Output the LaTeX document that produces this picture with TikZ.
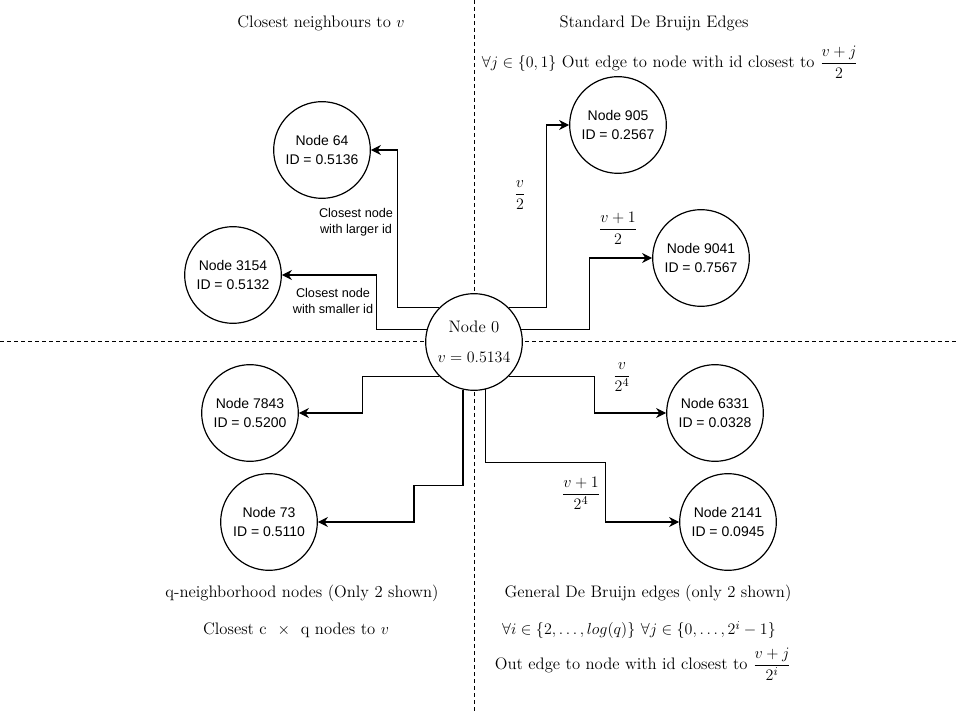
\documentclass[tikz,border=0pt]{standalone}
\usepackage{amsmath}
\usepackage{fontspec}
\newfontfamily\nodesans{Liberation Sans}
\usetikzlibrary{arrows.meta}

\begin{document}
\begin{tikzpicture}[x=0.75pt,y=0.75pt,yscale=-1,xscale=1,
  circ/.style={draw,circle,line width=0.9pt,fill=white,minimum size=72.5pt,inner sep=0pt,align=center,font=\nodesans\fontsize{10.5}{14}\selectfont},
  edge/.style={line width=0.8pt,-{Stealth[length=7.5pt,width=7.5pt,inset=2.5pt]}},
  quad/.style={dash pattern=on 3pt off 2.25pt,line width=0.6pt},
  ttl/.style={inner sep=0.75pt,font=\fontsize{12.5}{15}\selectfont},
  lbl/.style={inner sep=0.75pt,align=center,font=\nodesans\fontsize{9.5}{12}\selectfont}]
%set diagram left start at 0, and has height of 712
\useasboundingbox (0,0) rectangle (957,712);

%Straight Lines [id:quadrant borders]
\draw [quad] (0,341.5) -- (957,341.5) ;
\draw [quad] (474,0) -- (474,712) ;

%Shape: Circle [id:node 0]
\draw (474,342) node (n0) [circ,font=\fontsize{12.5}{22.5}\selectfont] {Node 0\\$v = 0.5134$};
%Shape: Circle [id:neighbours]
\draw (322,150) node (n64) [circ] {Node 64\\ID = 0.5136};
\draw (233,275) node (n3154) [circ] {Node 3154\\ID = 0.5132};
%Shape: Circle [id:standard de bruijn]
\draw (618,125) node (n905) [circ] {Node 905\\ID = 0.2567};
\draw (701,258) node (n9041) [circ] {Node 9041\\ID = 0.7567};
%Shape: Circle [id:q-neighbourhood]
\draw (250,413) node (n7843) [circ] {Node 7843\\ID = 0.5200};
\draw (269,522) node (n73) [circ] {Node 73\\ID = 0.5110};
%Shape: Circle [id:general de bruijn]
\draw (715,413) node (n6331) [circ] {Node 6331\\ID = 0.0328};
\draw (728,522) node (n2141) [circ] {Node 2141\\ID = 0.0945};

%Straight Lines [id:edges]
\draw [edge] (n0.135) -- ++(-42,0) |- (n64) ;
\draw [edge] (n0.165) -- ++(-50,0) |- (n3154) ;
\draw [edge] (n0.45) -- ++(38,0) |- (n905) ;
\draw [edge] (n0.15) -- ++(68,0) |- (n9041) ;
\draw [edge] (n0.-135) -- ++(-77,0) |- (n7843) ;
\draw [edge] (n0.-103) -- ++(0,96) -- ++(-49,0) |- (n73) ;
\draw [edge] (n0.-45) -- ++(86,0) |- (n6331) ;
\draw [edge] (n0.-76) -- ++(0,73) -- ++(120,0) |- (n2141) ;

% Text Node
\draw (356,222) node (l64) [lbl] {Closest node\\with larger id};
% Text Node
\draw (333,301) node (l3154) [lbl] {Closest node\\with smaller id};
% Text Node
\draw (520,195) node (f905) [ttl] {$\dfrac{v}{2}$};
% Text Node
\draw (618,228) node (f9041) [ttl] {$\dfrac{v+1}{2}$};
% Text Node
\draw (622,377) node (f6331) [ttl] {$\dfrac{v}{2^4}$};
% Text Node
\draw (581,493) node (f2141) [ttl] {$\dfrac{v+1}{2^4}$};

% Text Node
\draw (321,23) node (t1) [ttl] {Closest neighbours to $v$};
% Text Node
\draw (654,23) node (t2) [ttl] {Standard De Bruijn Edges};
% Text Node
\draw (670,62) node (t2b) [ttl] {$\forall j \in \{0,1\}$ Out edge to node with id closest to $\dfrac{v+j}{2}$};
% Text Node
\draw (302,593) node (t3) [ttl] {q-neighborhood nodes (Only 2 shown)};
% Text Node
\draw (296,630) node (t3b) [ttl] {Closest c ~$\times$~ q nodes to $v$};
% Text Node
\draw (648,593) node (t4) [ttl] {General De Bruijn edges (only 2 shown)};
% Text Node
\draw (639,630) node (t4b) [ttl,font=\fontsize{13}{15}\selectfont] {$\forall i \in \{2,\ldots,log(q)\}$ $\forall j \in \{0,\ldots,2^i-1\}$};
% Text Node
\draw (643,664) node (t4c) [ttl] {Out edge to node with id closest to $\dfrac{v+j}{2^i}$};

\end{tikzpicture}
\end{document}
